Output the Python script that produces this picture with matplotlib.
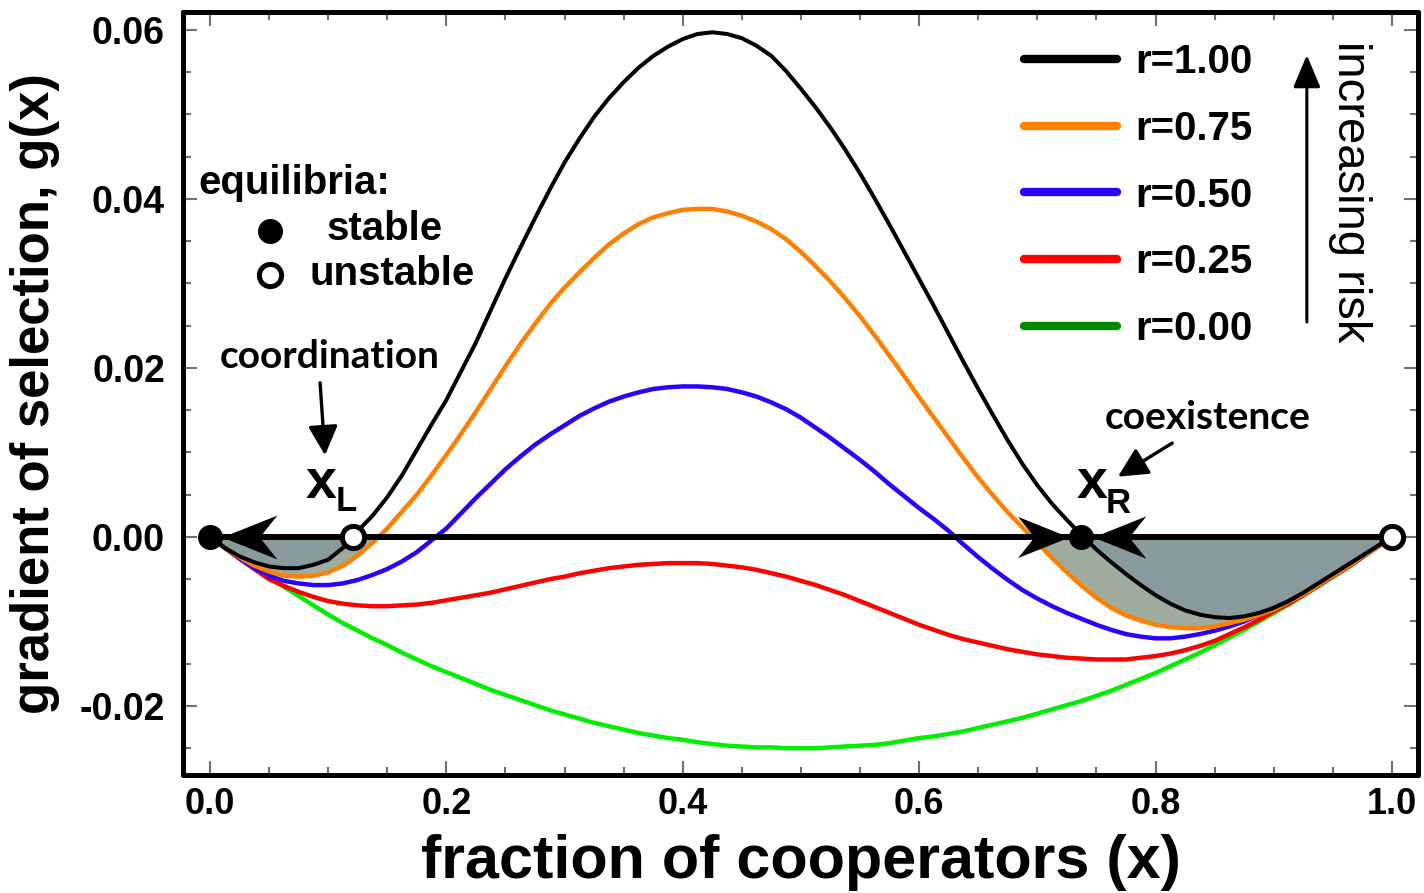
import numpy as np
import matplotlib
matplotlib.use("Agg")
import matplotlib.pyplot as plt
from matplotlib.path import Path
from matplotlib.markers import MarkerStyle
from matplotlib.lines import Line2D
from matplotlib.ticker import MultipleLocator, FormatStrFormatter

# ---------------- data ----------------
x_vals = [0.0000, 0.0125, 0.0250, 0.0375, 0.0500, 0.0625, 0.0750, 0.0875, 0.1000, 0.1125,
          0.1250, 0.1375, 0.1500, 0.1625, 0.1750, 0.1875, 0.2000, 0.2125, 0.2250, 0.2375,
          0.2500, 0.2625, 0.2750, 0.2875, 0.3000, 0.3125, 0.3250, 0.3375, 0.3500, 0.3625,
          0.3750, 0.3875, 0.4000, 0.4125, 0.4250, 0.4375, 0.4500, 0.4625, 0.4750, 0.4875,
          0.5000, 0.5125, 0.5250, 0.5375, 0.5500, 0.5625, 0.5750, 0.5875, 0.6000, 0.6125,
          0.6250, 0.6375, 0.6500, 0.6625, 0.6750, 0.6875, 0.7000, 0.7125, 0.7250, 0.7375,
          0.7500, 0.7625, 0.7750, 0.7875, 0.8000, 0.8125, 0.8250, 0.8375, 0.8500, 0.8625,
          0.8750, 0.8875, 0.9000, 0.9125, 0.9250, 0.9375, 0.9500, 0.9625, 0.9750, 0.9875,
          1.0000]

g_r100 = [0.0, -0.0013, -0.0023, -0.0030, -0.0035, -0.0037, -0.0037, -0.0033, -0.0027, -0.0013,
          0.0007, 0.0025, 0.0047, 0.0073, 0.0103, 0.0133, 0.0162, 0.0196, 0.0230, 0.0268,
          0.0306, 0.0342, 0.0377, 0.0411, 0.0443, 0.0471, 0.0497, 0.0519, 0.0538, 0.0555,
          0.0569, 0.0580, 0.0589, 0.0595, 0.0597, 0.0595, 0.0590, 0.0581, 0.0569, 0.0551,
          0.0530, 0.0508, 0.0484, 0.0458, 0.0430, 0.0400, 0.0369, 0.0337, 0.0305, 0.0273,
          0.0240, 0.0207, 0.0175, 0.0144, 0.0114, 0.0086, 0.0061, 0.0039, 0.0020, 0.0002,
          -0.0015, -0.0030, -0.0044, -0.0057, -0.0069, -0.0079, -0.0087, -0.0092, -0.0095, -0.0096,
          -0.0094, -0.0090, -0.0084, -0.0076, -0.0066, -0.0055, -0.0044, -0.0033, -0.0022, -0.0011,
          0.0]

g_r075 = [0.0, -0.0013, -0.0024, -0.0034, -0.0041, -0.0046, -0.0047, -0.0046, -0.0042, -0.0034,
          -0.0022, -0.0007, 0.0010, 0.0030, 0.0050, 0.0073, 0.0097, 0.0122, 0.0148, 0.0175,
          0.0202, 0.0228, 0.0252, 0.0275, 0.0295, 0.0313, 0.0330, 0.0346, 0.0359, 0.0370,
          0.0378, 0.0383, 0.0387, 0.0388, 0.0388, 0.0385, 0.0380, 0.0373, 0.0364, 0.0352,
          0.0337, 0.0320, 0.0302, 0.0282, 0.0261, 0.0238, 0.0214, 0.0190, 0.0165, 0.0141,
          0.0117, 0.0093, 0.0070, 0.0049, 0.0029, 0.0011, -0.0007, -0.0025, -0.0042, -0.0058,
          -0.0072, -0.0084, -0.0093, -0.0099, -0.0104, -0.0107, -0.0108, -0.0108, -0.0106, -0.0102,
          -0.0098, -0.0092, -0.0086, -0.0077, -0.0068, -0.0057, -0.0046, -0.0035, -0.0023, -0.0012,
          0.0]

g_r050 = [0.0, -0.0013, -0.0025, -0.0037, -0.0046, -0.0052, -0.0055, -0.0057, -0.0057, -0.0055,
          -0.0051, -0.0045, -0.0038, -0.0029, -0.0018, -0.0004, 0.0010, 0.0028, 0.0046, 0.0063,
          0.0080, 0.0095, 0.0109, 0.0121, 0.0132, 0.0143, 0.0152, 0.0160, 0.0166, 0.0171,
          0.0175, 0.0177, 0.0178, 0.0178, 0.0177, 0.0175, 0.0171, 0.0166, 0.0159, 0.0151,
          0.0141, 0.0129, 0.0117, 0.0104, 0.0091, 0.0077, 0.0062, 0.0048, 0.0034, 0.0021,
          0.0007, -0.0009, -0.0024, -0.0038, -0.0051, -0.0063, -0.0073, -0.0082, -0.0090, -0.0097,
          -0.0104, -0.0110, -0.0115, -0.0118, -0.0120, -0.0120, -0.0118, -0.0115, -0.0111, -0.0106,
          -0.0100, -0.0092, -0.0084, -0.0076, -0.0067, -0.0057, -0.0046, -0.0035, -0.0023, -0.0012,
          0.0]

g_r025 = [0.0, -0.0013, -0.0026, -0.0038, -0.0050, -0.0058, -0.0065, -0.0071, -0.0076, -0.0079,
          -0.0081, -0.0082, -0.0082, -0.0081, -0.0080, -0.0078, -0.0075, -0.0072, -0.0069, -0.0066,
          -0.0062, -0.0058, -0.0054, -0.0050, -0.0047, -0.0043, -0.0040, -0.0037, -0.0035, -0.0033,
          -0.0032, -0.0031, -0.0031, -0.0031, -0.0032, -0.0034, -0.0036, -0.0039, -0.0043, -0.0047,
          -0.0052, -0.0057, -0.0063, -0.0069, -0.0076, -0.0083, -0.0090, -0.0097, -0.0104, -0.0110,
          -0.0116, -0.0121, -0.0125, -0.0129, -0.0133, -0.0136, -0.0139, -0.0141, -0.0143, -0.0144,
          -0.0145, -0.0145, -0.0145, -0.0143, -0.0141, -0.0138, -0.0134, -0.0129, -0.0123, -0.0115,
          -0.0107, -0.0098, -0.0088, -0.0079, -0.0069, -0.0058, -0.0047, -0.0036, -0.0024, -0.0012,
          0.0]

g_r000 = [0.0, -0.0012, -0.0025, -0.0037, -0.0048, -0.0059, -0.0070, -0.0081, -0.0092, -0.0102,
          -0.0111, -0.0120, -0.0128, -0.0137, -0.0145, -0.0153, -0.0160, -0.0167, -0.0174, -0.0181,
          -0.0187, -0.0193, -0.0199, -0.0205, -0.0210, -0.0215, -0.0220, -0.0224, -0.0228, -0.0232,
          -0.0235, -0.0238, -0.0240, -0.0243, -0.0245, -0.0247, -0.0248, -0.0249, -0.0249, -0.0250,
          -0.0250, -0.0250, -0.0249, -0.0248, -0.0247, -0.0246, -0.0244, -0.0241, -0.0238, -0.0236,
          -0.0233, -0.0230, -0.0226, -0.0222, -0.0218, -0.0214, -0.0209, -0.0204, -0.0199, -0.0194,
          -0.0188, -0.0182, -0.0175, -0.0168, -0.0161, -0.0153, -0.0145, -0.0137, -0.0128, -0.0119,
          -0.0110, -0.0100, -0.0090, -0.0080, -0.0069, -0.0058, -0.0047, -0.0036, -0.0024, -0.0012,
          0.0]

series_labels = ["r=1.00", "r=0.75", "r=0.50", "r=0.25", "r=0.00"]
line_colors = ["#000000", "#ff7f00", "#2a00ff", "#ff0000", "#00ee00"]
legend_colors = ["#000000", "#ff7f00", "#2a00ff", "#ff0000", "#008a00"]

stable_x = [0.0, 0.737]
unstable_x = [0.1207, 1.0]

x_ticks = [0.0, 0.2, 0.4, 0.6, 0.8, 1.0]
y_ticks = [-0.02, 0.00, 0.02, 0.04, 0.06]

# ---------------- figure ----------------
BOLD = dict(family=["Liberation Sans", "DejaVu Sans"], weight="bold")
fig = plt.figure(figsize=(14.24, 8.93), dpi=100)
ax = fig.add_axes([183 / 1424, 1 - 775 / 893, (1418 - 183) / 1424, (775 - 12) / 893])

x = np.array(x_vals)
curves = [np.array(g_r100), np.array(g_r075), np.array(g_r050), np.array(g_r025), np.array(g_r000)]

# shaded basins
ax.fill_between(x, curves[1], 0, where=curves[1] <= 0, interpolate=True,
                color="#9eac9f", lw=0, zorder=1)
ax.fill_between(x, curves[0], 0, where=curves[0] <= 0, interpolate=True,
                color="#889a9c", lw=0, zorder=2)

# curves (black on top)
for i in range(4, -1, -1):
    ax.plot(x, curves[i], color=line_colors[i], lw=3.2 if i else 2.9,
            solid_capstyle="round", solid_joinstyle="round", zorder=3 + (4 - i))

# zero line
ax.hlines(0, x[0], x[-1], color="black", lw=4.3, zorder=9)

# stealth arrowheads on zero line
right_head = Path([(0, 0), (-1, 0.40), (-0.68, 0), (-1, -0.40), (0, 0)],
                  [Path.MOVETO, Path.LINETO, Path.LINETO, Path.LINETO, Path.CLOSEPOLY])
left_head = Path([(0, 0), (1, 0.40), (0.68, 0), (1, -0.40), (0, 0)],
                 [Path.MOVETO, Path.LINETO, Path.LINETO, Path.LINETO, Path.CLOSEPOLY])
dot_r = 0.0102
ax.plot([stable_x[0] + dot_r], [0], marker=MarkerStyle(left_head), ms=79,
        color="black", mew=0, ls="none", zorder=10)
ax.plot([stable_x[1] - dot_r], [0], marker=MarkerStyle(right_head), ms=74,
        color="black", mew=0, ls="none", zorder=10)
ax.plot([stable_x[1] + dot_r], [0], marker=MarkerStyle(left_head), ms=76,
        color="black", mew=0, ls="none", zorder=10)

# equilibria markers
ax.plot(stable_x, [0] * len(stable_x), "o", ms=17, color="black", zorder=11)
ax.plot(unstable_x, [0] * len(unstable_x), "o", ms=16, mfc="white", mec="black",
        mew=3.6, zorder=11)

# axes styling
ax.set_xlim(-0.0228, 1.022)
ax.set_ylim(-0.02817, 0.0621)
ax.set_xticks(x_ticks)
ax.set_yticks(y_ticks)
ax.xaxis.set_minor_locator(MultipleLocator(0.05))
ax.yaxis.set_minor_locator(MultipleLocator(0.005))
ax.xaxis.set_major_formatter(FormatStrFormatter("%.1f"))
ax.yaxis.set_major_formatter(FormatStrFormatter("%.2f"))
ax.tick_params(which="both", direction="in", top=True, right=True,
               color="#707070", width=1.5)
ax.tick_params(which="major", length=10)
ax.tick_params(which="minor", length=6)
ax.tick_params(axis="x", pad=9)
ax.tick_params(axis="y", pad=13)
for lab in ax.get_xticklabels():
    lab.set_fontproperties(dict(BOLD, size=26))
for lab in ax.get_yticklabels():
    lab.set_fontproperties(dict(BOLD, size=27))
for sp in ax.spines.values():
    sp.set_linewidth(3.6)
    sp.set_capstyle("round")
    sp.set_joinstyle("round")

ax.set_xlabel("fraction of cooperators (x)", fontsize=44, labelpad=8, **BOLD)
ax.set_ylabel("gradient of selection, g(x)", fontsize=38, labelpad=14, **BOLD)

# legend
handles = [Line2D([], [], color=c, lw=6, solid_capstyle="round") for c in legend_colors]
leg = ax.legend(handles, series_labels, loc="upper left", bbox_to_anchor=(0.668, 0.98),
                frameon=False, prop=dict(BOLD, size=29), handlelength=2.3,
                handletextpad=0.45, labelspacing=0.71, borderaxespad=0)

# increasing risk
ax.annotate("", xy=(0.910, 0.9436), xytext=(0.910, 0.5937), xycoords="axes fraction",
            arrowprops=dict(arrowstyle="-|>,head_length=1.0,head_width=0.42",
                            lw=2.2, color="black", mutation_scale=20, shrinkA=0, shrinkB=0))
ax.text(0.945, 0.764, "increasing risk", rotation=-90, transform=ax.transAxes,
        ha="center", va="center", fontsize=34, family=["Liberation Sans", "DejaVu Sans"])

# equilibria key
ax.text(0.0121, 0.776, "equilibria:", transform=ax.transAxes, ha="left", va="center",
        fontsize=29, **BOLD)
ax.plot([0.0704], [0.713], "o", ms=17, color="black", transform=ax.transAxes)
ax.text(0.1166, 0.7156, "stable", transform=ax.transAxes, ha="left", va="center",
        fontsize=29, **BOLD)
ax.plot([0.0704], [0.655], "o", ms=16, mfc="white", mec="black", mew=3.6,
        transform=ax.transAxes)
ax.text(0.1028, 0.6566, "unstable", transform=ax.transAxes, ha="left", va="center",
        fontsize=29, **BOLD)

# coordination / coexistence annotations
NOTE = dict(family=["Lato", "DejaVu Sans"], weight="bold")
ax.text(0.119, 0.548, "coordination", transform=ax.transAxes, ha="center", va="center",
        fontsize=28, **NOTE)
ax.annotate("", xy=(0.115, 0.419), xytext=(0.111, 0.514), xycoords="axes fraction",
            arrowprops=dict(arrowstyle="-|>,head_length=0.9,head_width=0.45",
                            lw=2.4, color="black", mutation_scale=20, shrinkA=0, shrinkB=0))
ax.text(0.830, 0.468, "coexistence", transform=ax.transAxes, ha="center", va="center",
        fontsize=28, **NOTE)
ax.annotate("", xy=(0.757, 0.391), xytext=(0.801, 0.435), xycoords="axes fraction",
            arrowprops=dict(arrowstyle="-|>,head_length=0.9,head_width=0.45",
                            lw=2.4, color="black", mutation_scale=20, shrinkA=0, shrinkB=0))

# x_L and x_R labels
ax.text(0.1117, 0.382, "x", transform=ax.transAxes, ha="center", va="center",
        fontsize=40, **BOLD)
ax.text(0.132, 0.358, "L", transform=ax.transAxes, ha="center", va="center",
        fontsize=25, **BOLD)
ax.text(0.736, 0.382, "x", transform=ax.transAxes, ha="center", va="center",
        fontsize=40, **BOLD)
ax.text(0.757, 0.356, "R", transform=ax.transAxes, ha="center", va="center",
        fontsize=25, **BOLD)

fig.savefig("out.png", dpi=100)
